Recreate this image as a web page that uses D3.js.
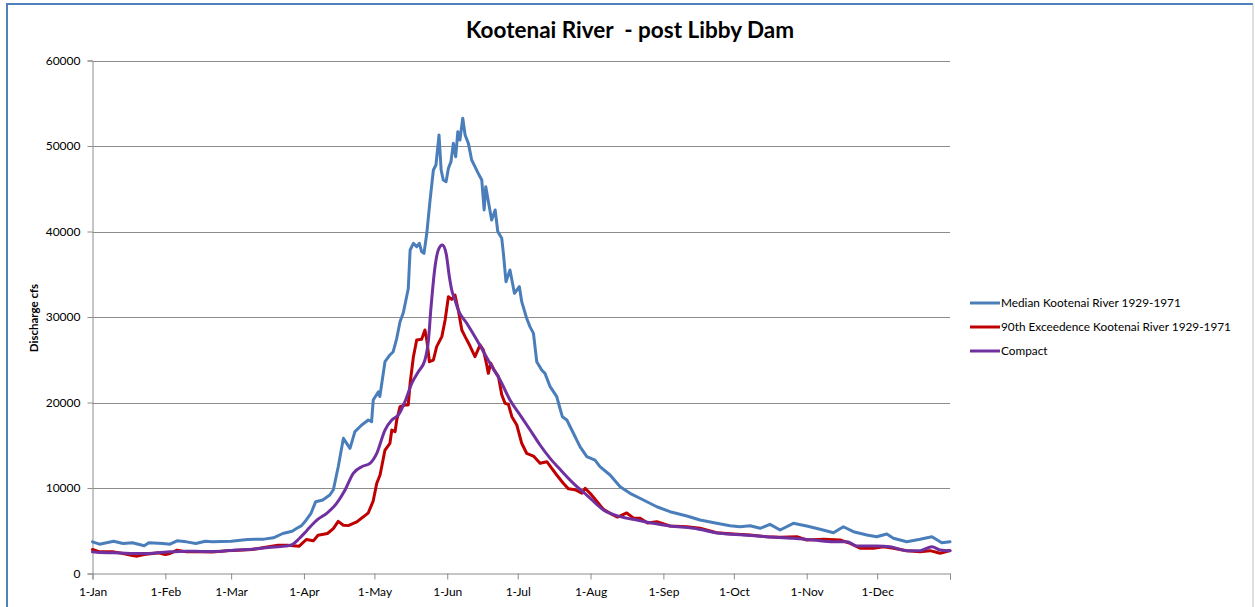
<!DOCTYPE html>
<html>
<head>
<meta charset="utf-8">
<script src="https://cdn.jsdelivr.net/npm/d3@7/dist/d3.min.js"></script>
<style>
  html, body { margin: 0; padding: 0; background: #fff; }
  svg { display: block; }
  text { font-family: Lato, "Open Sans", sans-serif; fill: #000; }
</style>
</head>
<body>
<svg id="chart" width="1255" height="607"></svg>
<script>
// ---- Data (day of year, discharge cfs) ----
const title = "Kootenai River  - post Libby Dam";
const yAxisTitle = "Discharge cfs";
const monthLabels = ["1-Jan","1-Feb","1-Mar","1-Apr","1-May","1-Jun","1-Jul","1-Aug","1-Sep","1-Oct","1-Nov","1-Dec"];
const monthStartDays = [0,31,59,90,120,151,181,212,243,273,304,334];
const yTicks = [0,10000,20000,30000,40000,50000,60000];
const seriesNames = ["Median Kootenai River 1929-1971","90th Exceedence Kootenai River 1929-1971","Compact"];

const median = [[0,3700],[3,3430],[6,3600],[9,3780],[13,3510],[17,3590],[22,3240],[24,3590],[30,3510],[33,3430],[36,3820],[40,3700],[44,3510],[48,3780],[51,3700],[55,3750],[59,3780],[66,3980],[73,4020],[77,4170],[81,4680],[85,4950],[87,5290],[89,5600],[91,6260],[93,7040],[95,8400],[98,8600],[101,9180],[102.5,9770],[104.6,12490],[106.8,15810],[109.6,14640],[111.7,16590],[114.6,17370],[117.4,17950],[118.8,17750],[119.5,20290],[121.7,21260],[122.3,20700],[124.5,24770],[126.6,25560],[128,25940],[129.5,27510],[130.9,29450],[132.3,30500],[134.4,33300],[135.2,37840],[136.6,38620],[138,38230],[139.1,38620],[140.1,37640],[141.1,37450],[142.3,39790],[143.7,43690],[145.1,47190],[146.2,47780],[147.5,51290],[148.4,47190],[149.3,46020],[150.5,45830],[151.5,47390],[152.6,48170],[153.6,50310],[154.6,48750],[155.5,51670],[156.4,50700],[157.6,53240],[158.6,51290],[160,50310],[161.4,48360],[162.8,47580],[164.2,46800],[165.7,46020],[166.7,42520],[167.4,45240],[168.9,42900],[169.9,41350],[171.4,42520],[172.5,40000],[174.2,39200],[174.9,37450],[176,34130],[177.7,35500],[179.6,32770],[181.7,33550],[182.7,31790],[184.8,29850],[186.2,28870],[187.7,28090],[189.1,24770],[191.2,23800],[192.6,23410],[194.8,21850],[197.6,20680],[199,19300],[200,18340],[201.9,17950],[204.7,16400],[207.5,14830],[210.4,13660],[213.9,13270],[216,12490],[220.3,11520],[224.6,10150],[228.8,9380],[234.5,8600],[240.2,7810],[245.8,7230],[253,6730],[258.6,6260],[265.7,5870],[271.4,5590],[275.6,5470],[279.9,5590],[284.2,5290],[288.4,5750],[292.7,5090],[298.3,5870],[304,5560],[309.7,5170],[315.4,4770],[319.6,5470],[323.9,4890],[329.6,4500],[333.8,4300],[338.1,4620],[340.9,4120],[346.6,3720],[352.3,4000],[357.3,4300],[361.5,3600],[365,3720]];

const exceedence90 = [[0,2810],[3,2530],[9,2530],[13,2340],[17,2110],[19,2030],[22,2220],[28,2420],[31,2220],[33,2340],[36,2730],[40,2530],[45,2530],[51,2500],[57,2650],[62,2730],[68,2810],[73,3040],[79,3310],[83,3310],[88,3200],[91,3980],[94,3820],[96,4480],[100,4680],[102.5,5260],[104.6,6100],[106.8,5650],[108.9,5600],[111,5860],[112.5,6040],[115.3,6630],[117.4,7100],[119.5,8500],[121,10550],[122.4,11520],[124.5,14440],[126.6,15230],[127.4,16780],[128.8,16590],[129.5,17950],[130.9,19510],[133,19710],[134.4,19710],[135.2,22250],[136.6,25360],[138,27310],[140.1,27390],[141.5,28480],[142.3,27310],[143.4,24770],[145.1,24970],[146.5,26530],[148.7,27700],[150.1,29650],[151.5,32380],[152.9,32070],[154.3,32570],[155.7,30820],[157.2,28480],[158.6,27700],[160.7,26600],[162.8,25360],[165,26730],[166.4,26140],[167.8,24390],[168.5,23410],[169.5,24590],[170.9,23800],[172.8,23020],[174.2,20900],[175.6,19900],[177,19800],[178.5,18340],[180.6,17370],[182.7,15230],[184.8,14060],[187.7,13740],[190.5,12890],[193.4,13080],[195.5,12300],[197.6,11520],[200.4,10550],[202.6,9900],[205.4,9800],[208.3,9400],[209.7,9960],[211.8,9380],[214.2,8600],[217.5,7500],[220.3,7040],[223.5,6600],[227.4,7080],[230.2,6500],[233.1,6450],[236.3,5900],[240.2,6060],[245.8,5560],[253,5470],[258.6,5290],[265.7,4770],[272.8,4620],[279.9,4500],[287,4300],[292.7,4230],[299.8,4300],[304,3920],[311.2,4000],[318.2,3920],[322.5,3530],[326.7,2950],[332.4,2950],[336.7,3130],[340.9,2950],[346.6,2670],[352.3,2550],[356.5,2670],[360.8,2360],[365,2670]];

const compact = [[0,2530],[3,2460],[9,2420],[16,2340],[22,2340],[28,2420],[33,2530],[40,2610],[48,2570],[55,2610],[60,2730],[68,2850],[75,3040],[82,3200],[85,3390],[88,4090],[91,4950],[94,5850],[96,6350],[99.7,7040],[103.9,8210],[107.5,9770],[111,11720],[114.6,12490],[118.1,12890],[121,14060],[124.5,16780],[127.4,17950],[130.2,18540],[133,20100],[135.9,22250],[138.7,23600],[141.5,24970],[143,27310],[144,30820],[145.8,35880],[147.2,37840],[148.9,38420],[150.5,37450],[151.9,34710],[152.9,33160],[154.3,31990],[155.7,30820],[159.3,29260],[163.6,27310],[169.2,24590],[173.5,22630],[177.7,20290],[182,18540],[186.3,16780],[190.5,15030],[194.8,13470],[199,12190],[204.7,10550],[210.4,9180],[217.5,7430],[224.6,6650],[231.7,6260],[238.7,5870],[245.8,5560],[255.8,5290],[267.1,4700],[277.1,4500],[287,4300],[298.3,4120],[306.9,3920],[315.4,3720],[321.1,3720],[325.3,3220],[333.8,3220],[339.5,3130],[346.6,2670],[352.3,2670],[357.3,3130],[360.8,2750],[365,2670]];

// ---- Layout ----
const svg = d3.select("#chart");
const plot = {left: 92.5, right: 950, top: 60.5, bottom: 573.5};
const colors = ["#4A7EBB", "#C00000", "#7030A0"];

const x = d3.scaleLinear().domain([0, 365]).range([plot.left, plot.right]);
const y = d3.scaleLinear().domain([0, 60000]).range([plot.bottom, plot.top]);

// frame
svg.append("line").attr("x1",7).attr("x2",7).attr("y1",4).attr("y2",607).attr("stroke","#4F81BD").attr("stroke-width",2);
svg.append("line").attr("x1",6).attr("x2",1253).attr("y1",4).attr("y2",4).attr("stroke","#4F81BD").attr("stroke-width",2);
svg.append("line").attr("x1",1253).attr("x2",1253).attr("y1",4).attr("y2",607).attr("stroke","#BFBFBF").attr("stroke-width",1);

// title
svg.append("text").attr("x", 630).attr("y", 38).attr("text-anchor","middle")
  .attr("xml:space","preserve").style("white-space","pre")
  .style("font-size","22.5px").style("font-weight","bold").text(title);

// gridlines
svg.append("g").selectAll("line").data(yTicks.filter(d => d > 0)).join("line")
  .attr("x1", plot.left).attr("x2", plot.right)
  .attr("y1", d => Math.round(y(d)) + 0.5).attr("y2", d => Math.round(y(d)) + 0.5)
  .attr("stroke", "#8C8C8C").attr("stroke-width", 1);

// y axis
const yAxis = d3.axisLeft(y).tickValues(yTicks).tickFormat(d3.format("d")).tickSize(5).tickPadding(7);
const gy = svg.append("g").attr("transform", `translate(${plot.left},0)`).call(yAxis);
gy.select(".domain").attr("stroke", "#8C8C8C");
gy.selectAll(".tick line").attr("stroke", "#8C8C8C");
gy.selectAll("text").style("font-size", "12px").style("font-family", "Lato, sans-serif").attr("fill", "#222");

// x axis
const xAxis = d3.axisBottom(x).tickValues(monthStartDays.concat([365])).tickSize(6).tickPadding(8)
  .tickFormat((d, i) => i < monthLabels.length ? monthLabels[i] : "");
const gx = svg.append("g").attr("transform", `translate(0,${plot.bottom})`).call(xAxis);
gx.select(".domain").attr("stroke", "#8C8C8C");
gx.selectAll(".tick line").attr("stroke", "#8C8C8C");
gx.selectAll("text").style("font-size", "12px").style("font-family", "Lato, sans-serif").attr("fill", "#222");

// y axis title
svg.append("text").attr("transform", "translate(38,318) rotate(-90)").attr("text-anchor","middle")
  .style("font-size","11.5px").style("font-weight","bold").text(yAxisTitle);

// series
const line = d3.line().x(d => x(d[0])).y(d => y(d[1]));
const smooth = d3.line().x(d => x(d[0])).y(d => y(d[1])).curve(d3.curveMonotoneX);
const series = [median, exceedence90, compact];
series.forEach((s, i) => {
  svg.append("path").datum(s)
    .attr("d", i === 2 ? smooth : line)
    .attr("fill", "none").attr("stroke", colors[i]).attr("stroke-width", 3)
    .attr("stroke-linejoin", "round").attr("stroke-linecap", "round");
});

// legend
const legendY = [303, 327, 351];
const lg = svg.append("g");
seriesNames.forEach((n, i) => {
  lg.append("line").attr("x1", 970).attr("x2", 1000).attr("y1", legendY[i]).attr("y2", legendY[i])
    .attr("stroke", colors[i]).attr("stroke-width", 3);
  lg.append("text").attr("x", 1001).attr("y", legendY[i] + 4).style("font-size", "11.8px").attr("fill","#222").text(n);
});
</script>
</body>
</html>
